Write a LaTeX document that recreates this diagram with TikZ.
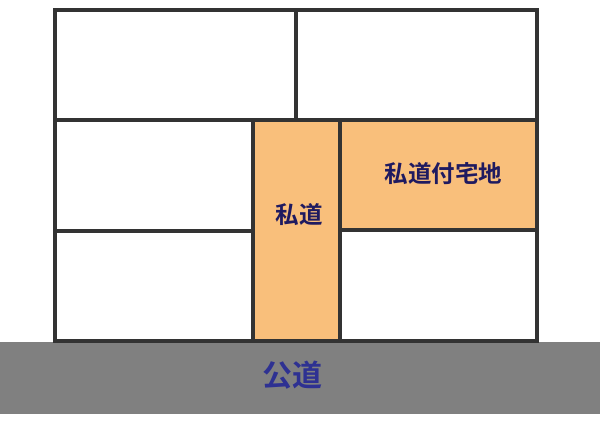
\documentclass[tikz,border=0pt]{standalone}
\usepackage{fontspec}
\newfontfamily\cjk{Noto Sans CJK JP}[BoldFont={Noto Sans CJK JP Bold}]
\definecolor{lineC}{HTML}{333333}
\definecolor{orangeC}{HTML}{F9BF7B}
\definecolor{grayC}{HTML}{808080}
\definecolor{navyC}{HTML}{1F1A60}
\definecolor{blueC}{HTML}{2E3192}
\tikzset{
  lot/.style={draw=lineC, line width=4pt, fill=white},
  privlot/.style={draw=lineC, line width=4pt, fill=orangeC},
  pub/.style={fill=grayC, draw=none},
  lbl/.style={inner sep=0pt, font=\cjk\bfseries\fontsize{23.5}{23.5}\selectfont, text=navyC},
  publbl/.style={inner sep=0pt, font=\cjk\bfseries\fontsize{30}{30}\selectfont, text=blueC}
}
\begin{document}
\begin{tikzpicture}[x=1pt,y=-1pt]
\useasboundingbox (0,0) rectangle (600,431);
\fill[white] (0,0) rectangle (600,431);
\path[pub] (0,342) rectangle (600,414) coordinate (pubSE);
\draw[lot] (55,10) rectangle (296,120);
\draw[lot] (296,10) rectangle (537,120);
\draw[lot] (55,120) rectangle (253,231);
\draw[lot] (55,231) rectangle (253,341);
\draw[privlot] (253,120) rectangle (340,341);
\draw[privlot] (340,120) rectangle (537,230);
\draw[lot] (340,230) rectangle (537,341);
\node[lbl] (road) at (299,215) {私道};
\node[lbl] (attached) at (443.5,174) {私道付宅地};
\node[publbl] (public) at (292.5,375) {公道};
\end{tikzpicture}
\end{document}
